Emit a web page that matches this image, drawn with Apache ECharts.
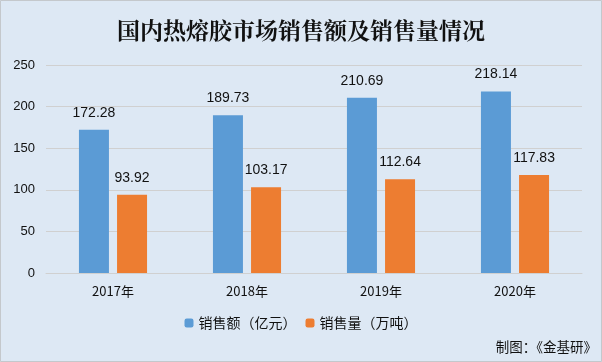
<!DOCTYPE html>
<html><head><meta charset="utf-8">
<script src="https://cdn.jsdelivr.net/npm/echarts@6/dist/echarts.min.js"></script>
<style>html,body{margin:0;padding:0;background:#dde8f4}#c{width:602px;height:362px}</style>
</head><body><div id="c"></div>
<script>
const categories = ['2017年', '2018年', '2019年', '2020年'];
const salesAmount = [172.28, 189.73, 210.69, 218.14];
const salesVolume = [93.92, 103.17, 112.64, 117.83];
const seriesNames = ['销售额（亿元）', '销售量（万吨）'];

const chart = echarts.init(document.getElementById('c'));
const lbl = {show: true, position: 'top', distance: 10, color: '#111', fontSize: 14, fontFamily: 'Liberation Sans, Arial'};
chart.setOption({
  backgroundColor: '#dde8f4',
  animation: false,
  title: {text: '国内热熔胶市场销售额及销售量情况', left: 'center', top: 14,
    textStyle: {fontFamily: 'Noto Serif CJK SC, serif', fontWeight: 'bold', fontSize: 23, color: '#111'}},
  graphic: [
    {type: 'rect', shape: {x: 0.5, y: 0.5, width: 601, height: 361}, style: {fill: 'none', stroke: '#c4c8cc', lineWidth: 1}, silent: true},
    {type: 'text', right: 5, bottom: 8, style: {text: '制图：《金基研》', fontSize: 13.5, fill: '#111', fontFamily: 'Noto Sans CJK SC'}}
  ],
  legend: {bottom: 27, left: 'center', itemWidth: 9, itemHeight: 9, itemGap: 9,
    textStyle: {fontSize: 14, color: '#111', fontFamily: 'Noto Sans CJK SC'}, data: seriesNames},
  grid: {left: 46, right: 20, top: 65, bottom: 89},
  xAxis: {type: 'category', data: categories,
    axisLine: {show: true, lineStyle: {color: '#d0d0d0'}}, axisTick: {show: false},
    axisLabel: {color: '#111', fontSize: 13, margin: 12, fontFamily: 'Noto Sans CJK SC'}},
  yAxis: {type: 'value', min: 0, max: 250, interval: 50,
    axisLine: {show: false}, axisTick: {show: false},
    splitLine: {lineStyle: {color: '#d0d0d0'}},
    axisLabel: {color: '#111', fontSize: 13, margin: 11, fontFamily: 'Liberation Sans, Arial'}},
  series: [
    {name: seriesNames[0], type: 'bar', data: salesAmount, barWidth: 30, barGap: '27%', itemStyle: {color: '#5b9bd5'}, label: lbl},
    {name: seriesNames[1], type: 'bar', data: salesVolume, barWidth: 30, itemStyle: {color: '#ed7d31'}, label: lbl}
  ]
});
</script></body></html>
